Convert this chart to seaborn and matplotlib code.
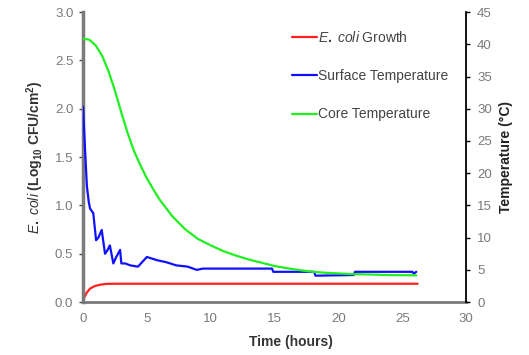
import matplotlib
matplotlib.use("Agg")
import matplotlib.pyplot as plt
import seaborn as sns
import pandas as pd

# E. coli growth (left axis, log10 CFU/cm2)
ecoli_time = [0, 0.1, 0.3, 0.55, 0.9, 1.33, 1.8, 2.4, 26.2]
ecoli_growth = [0.0, 0.05, 0.1, 0.14, 0.165, 0.18, 0.188, 0.19, 0.19]

# Surface temperature (right axis, degC)
surf_time = [0, 0.08, 0.16, 0.3, 0.45, 0.55, 0.8, 1.02, 1.2, 1.46, 1.72, 1.9, 2.1, 2.37,
             2.6, 2.9, 3.0, 3.3, 3.7, 4.3, 5.0, 5.8, 6.5, 7.3, 8.2, 8.9, 9.4, 10.5,
             14.8, 14.9, 18.1, 18.2, 21.2, 21.3, 25.8, 25.9, 26.1]
surf_temp = [30.3, 27.0, 23.5, 18.0, 15.5, 14.5, 13.8, 9.6, 10.0, 11.2, 7.5, 8.0, 8.8, 6.0,
             7.0, 8.1, 6.0, 6.0, 5.7, 5.5, 7.0, 6.5, 6.2, 5.7, 5.5, 5.0, 5.2, 5.2,
             5.2, 4.7, 4.7, 4.1, 4.2, 4.7, 4.7, 4.4, 4.7]

# Core temperature (right axis, degC)
core_time = [0, 0.5, 1.0, 1.5, 2.0, 2.5, 3.0, 3.5, 4.0, 4.5, 5.0, 5.5, 6.0, 7.0, 8.0,
             9.0, 10.0, 11.0, 12.0, 13.0, 14.0, 15.0, 16.0, 17.0, 18.0, 19.0, 20.0,
             21.0, 22.0, 24.0, 26.1]
core_temp = [40.9, 40.7, 39.8, 38.2, 35.8, 32.8, 29.4, 26.2, 23.4, 21.2, 19.2, 17.5, 15.9,
             13.3, 11.3, 9.8, 8.8, 7.9, 7.2, 6.6, 6.1, 5.6, 5.25, 4.95, 4.7, 4.55, 4.45,
             4.35, 4.3, 4.2, 4.15]

sns.set_style("white")
plt.rcParams["font.family"] = ["Liberation Sans", "DejaVu Sans"]
plt.rcParams["mathtext.fontset"] = "custom"
plt.rcParams["mathtext.rm"] = "Liberation Sans:bold"
plt.rcParams["mathtext.it"] = "Liberation Sans:italic"
plt.rcParams["mathtext.bf"] = "Liberation Sans:bold"

GRAY = "#7a7a7a"

fig, ax = plt.subplots(figsize=(5.29, 3.55), dpi=100)
fig.subplots_adjust(left=0.157, right=0.881, bottom=0.149, top=0.966)
ax2 = ax.twinx()

ecoli = pd.DataFrame({"t": ecoli_time, "v": ecoli_growth})
surf = pd.DataFrame({"t": surf_time, "v": surf_temp})
core = pd.DataFrame({"t": core_time, "v": core_temp})

sns.lineplot(data=ecoli, x="t", y="v", ax=ax, color="#ff2020", linewidth=1.6,
             estimator=None, sort=False, label=r"$\it{E.\ coli}$ Growth", legend=False)
sns.lineplot(data=surf, x="t", y="v", ax=ax2, color="#1010ff", linewidth=1.6,
             estimator=None, sort=False, label="Surface Temperature", legend=False)
sns.lineplot(data=core, x="t", y="v", ax=ax2, color="#20f020", linewidth=1.6,
             estimator=None, sort=False, label="Core Temperature", legend=False)

ax.set_xlim(0, 30)
ax.set_ylim(0, 3.0)
ax2.set_ylim(0, 45)
ax.set_xticks(range(0, 31, 5))
ax.set_yticks([0, 0.5, 1.0, 1.5, 2.0, 2.5, 3.0])
ax.set_yticklabels(["0.0", "0.5", "1.0", "1.5", "2.0", "2.5", "3.0"])
ax2.set_yticks(range(0, 46, 5))

ax.set_xlabel("Time (hours)", fontsize=10, fontweight="bold", color="#333333")
ax.xaxis.set_label_coords(0.543, -0.112)
ax.set_ylabel(r"$\it{E.\ coli}$ (Log$_{10}$ CFU/cm$^{2}$)", fontsize=10,
              fontweight="bold", color="#333333", labelpad=6)
ax2.set_ylabel("Temperature (°C)", fontsize=10, fontweight="bold", color="#222222",
               labelpad=5)

for s in ["top", "right"]:
    ax.spines[s].set_visible(False)
ax.spines["left"].set_color(GRAY)
ax.spines["left"].set_linewidth(2.5)
ax.spines["bottom"].set_color(GRAY)
ax.spines["bottom"].set_linewidth(2.0)
for s in ["top", "left", "bottom"]:
    ax2.spines[s].set_visible(False)
ax2.spines["right"].set_color("black")
ax2.spines["right"].set_linewidth(1.3)

ax.tick_params(axis="y", direction="out", length=3, width=1, color="#444444",
               labelsize=9.5, labelcolor=GRAY, pad=4)
ax.tick_params(axis="x", direction="inout", length=4, width=1, color="#444444",
               labelsize=9.5, labelcolor=GRAY, pad=6)
ax2.tick_params(axis="y", direction="out", length=3, width=1, color="black",
                labelsize=9.5, labelcolor=GRAY, pad=5)

handles = ax.get_lines()[:1] + ax2.get_lines()[:2]
labels = [h.get_label() for h in handles]
ax2.legend(handles, labels, loc="upper left", bbox_to_anchor=(0.53, 0.958),
           borderaxespad=0, frameon=False, fontsize=10, handlelength=1.8,
           handletextpad=0.1, labelspacing=1.75, labelcolor="#444444")

fig.savefig("out.png", dpi=100)
